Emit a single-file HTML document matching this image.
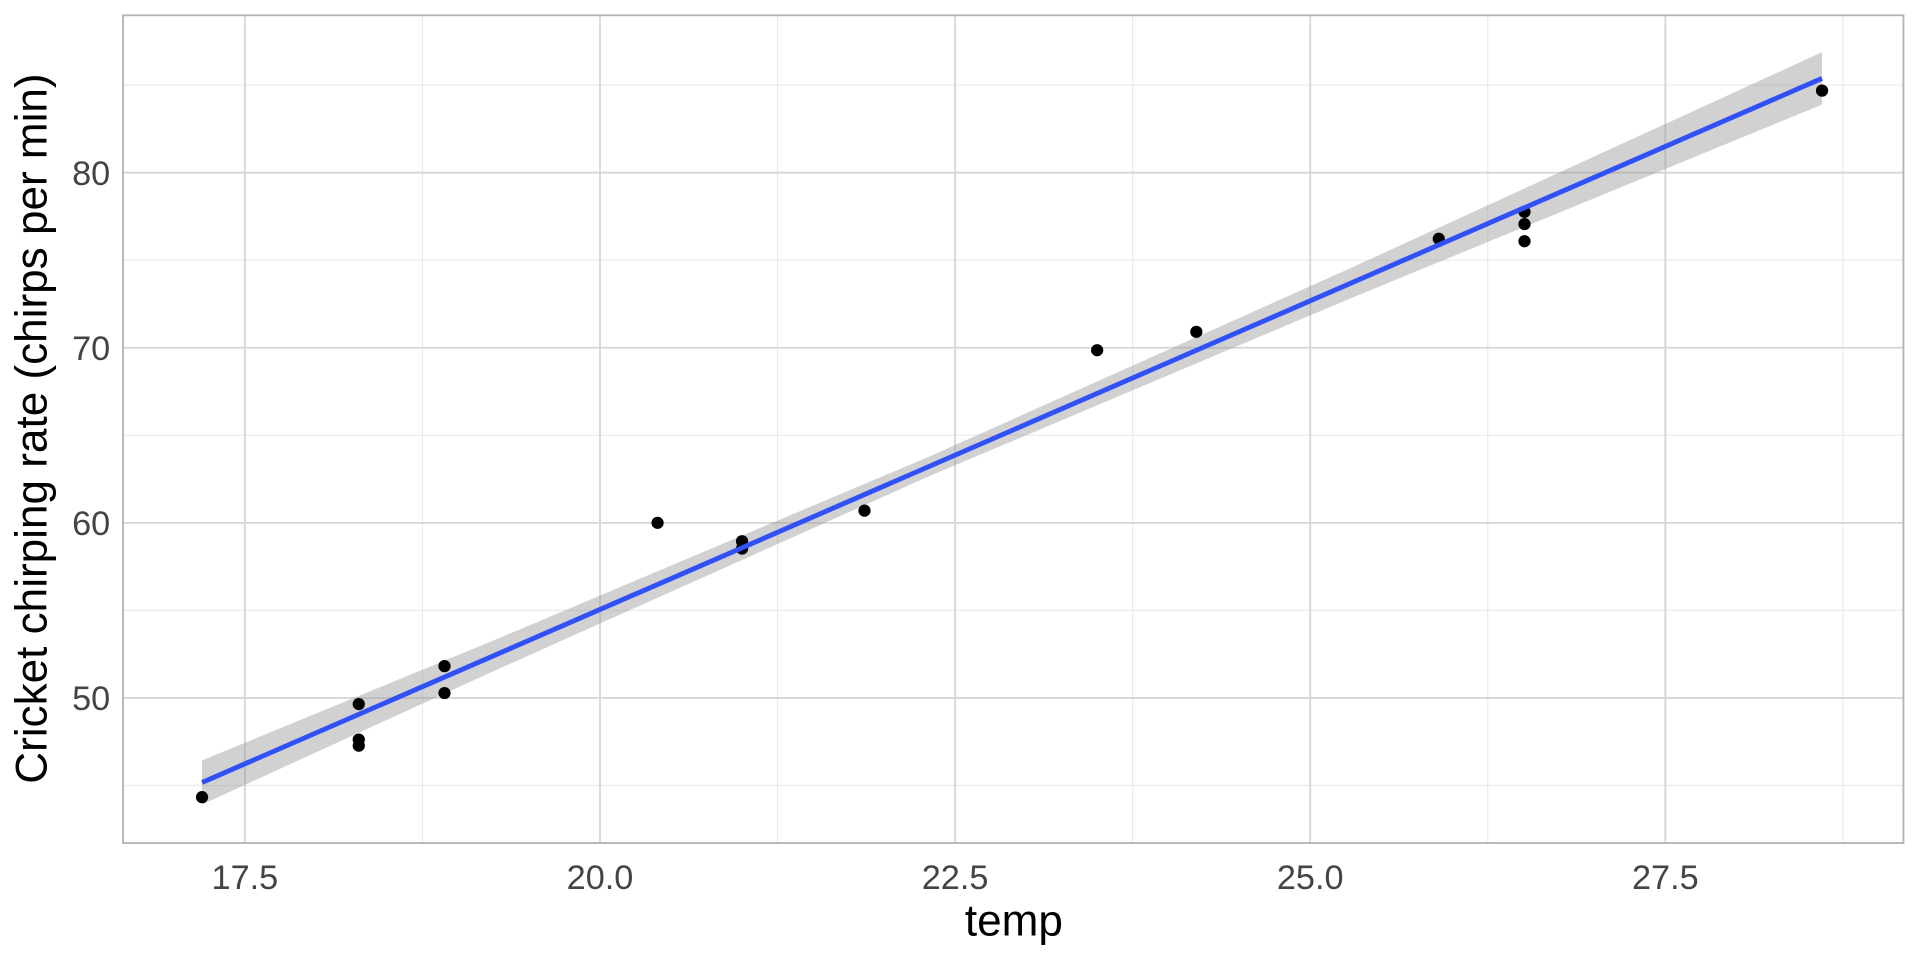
<!DOCTYPE html>
<html><head><meta charset="utf-8"><style>body{margin:0;background:#fff}svg{display:block}</style></head><body>
<svg width="1920" height="960" viewBox="0 0 1568 784" preserveAspectRatio="none" xmlns="http://www.w3.org/2000/svg" font-family="Liberation Sans, sans-serif">
<rect width="1568" height="784" fill="#fff"/>
<g stroke="#ebebeb" stroke-width="1">
<line x1="345" y1="12" x2="345" y2="688"/><line x1="635" y1="12" x2="635" y2="688"/><line x1="925" y1="12" x2="925" y2="688"/><line x1="1215" y1="12" x2="1215" y2="688"/><line x1="1505" y1="12" x2="1505" y2="688"/>
<line x1="100" y1="641.5" x2="1555" y2="641.5"/><line x1="100" y1="498.5" x2="1555" y2="498.5"/><line x1="100" y1="355.5" x2="1555" y2="355.5"/><line x1="100" y1="212.5" x2="1555" y2="212.5"/><line x1="100" y1="69.5" x2="1555" y2="69.5"/>
</g>
<g stroke="#d6d6d6" stroke-width="1.5">
<line x1="200" y1="12" x2="200" y2="688"/><line x1="490" y1="12" x2="490" y2="688"/><line x1="780" y1="12" x2="780" y2="688"/><line x1="1070" y1="12" x2="1070" y2="688"/><line x1="1360" y1="12" x2="1360" y2="688"/>
<line x1="100" y1="570" x2="1555" y2="570"/><line x1="100" y1="427" x2="1555" y2="427"/><line x1="100" y1="284" x2="1555" y2="284"/><line x1="100" y1="141" x2="1555" y2="141"/>
</g>
<polygon fill="#999" fill-opacity="0.45" points="165,621 400,524.3 757,373.7 1100,220.3 1488,42.6 1488,85.4 1100,244.9 757,389.7 400,549.5 165,657"/>
<g fill="#000">
<circle cx="165" cy="651" r="5"/><circle cx="293" cy="575" r="5"/><circle cx="293" cy="604" r="5"/><circle cx="293" cy="609" r="5"/><circle cx="363" cy="544" r="5"/><circle cx="363" cy="566" r="5"/><circle cx="537" cy="427" r="5"/><circle cx="606" cy="442" r="5"/><circle cx="606" cy="448" r="5"/><circle cx="706" cy="417" r="5"/><circle cx="896" cy="286" r="5"/><circle cx="977" cy="271" r="5"/><circle cx="1175" cy="195" r="5"/><circle cx="1245" cy="173" r="5"/><circle cx="1245" cy="183" r="5"/><circle cx="1245" cy="197" r="5"/><circle cx="1488" cy="74" r="5"/>
</g>
<line x1="165" y1="639" x2="1488" y2="64" stroke="#3050f8" stroke-width="4"/>
<rect x="100.5" y="12.5" width="1454" height="676" fill="none" stroke="#b3b3b3" stroke-width="1.5"/>
<g fill="#444" font-size="28" text-anchor="end">
<text x="90" y="580">50</text><text x="90" y="437">60</text><text x="90" y="294">70</text><text x="90" y="151">80</text>
</g>
<g fill="#444" font-size="28" text-anchor="middle">
<text x="200" y="726">17.5</text><text x="490" y="726">20.0</text><text x="780" y="726">22.5</text><text x="1070" y="726">25.0</text><text x="1360" y="726">27.5</text>
</g>
<text x="828" y="764" font-size="36" text-anchor="middle" fill="#000">temp</text>
<text transform="translate(38,350) rotate(-90)" font-size="36" text-anchor="middle" fill="#000">Cricket chirping rate (chirps per min)</text>
</svg>
</body></html>
